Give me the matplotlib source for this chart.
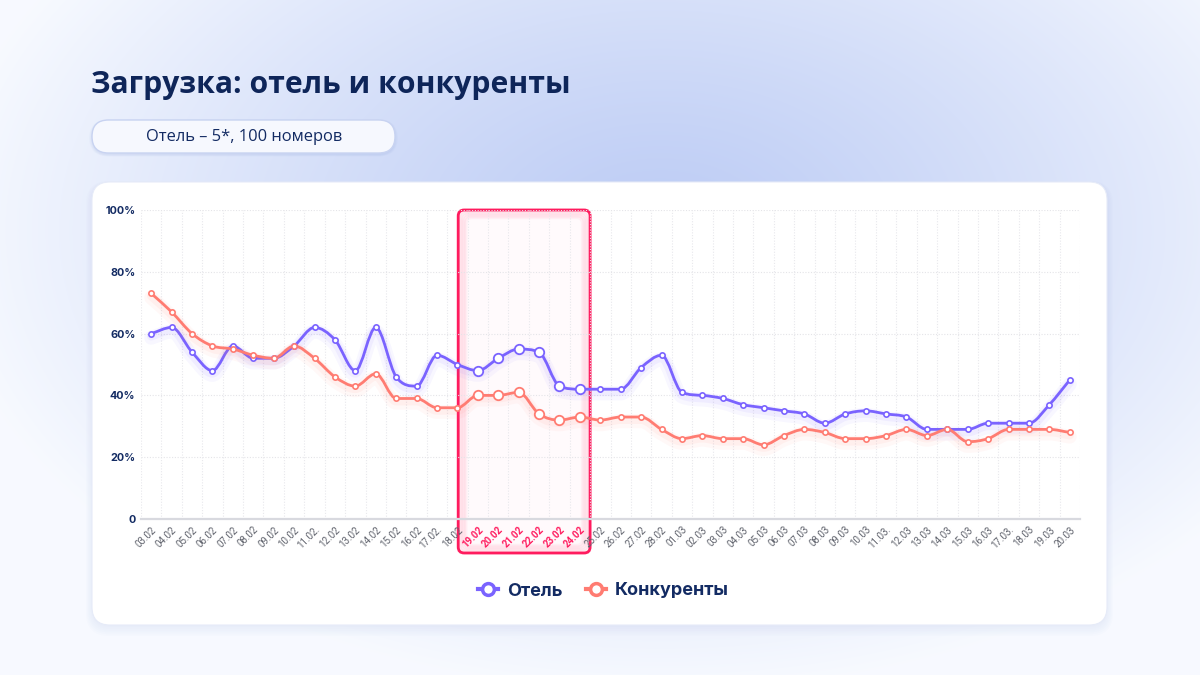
import numpy as np
import matplotlib.pyplot as plt
from matplotlib.patches import FancyBboxPatch, PathPatch
from matplotlib.path import Path
from matplotlib.lines import Line2D
import matplotlib.patheffects as pe


dates = ['03.02', '04.02', '05.02', '06.02', '07.02', '08.02', '09.02', '10.02', '11.02.', '12.02',
         '13.02', '14.02', '15.02', '16.02', '17.02.', '18.02', '19.02', '20.02', '21.02', '22.02',
         '23.02', '24.02', '25.02', '26.02', '27.02', '28.02', '01.03', '02.03', '03.03', '04.03',
         '05.03', '06.03', '07.03', '08.03', '09.03', '10.03', '11.03.', '12.03', '13.03', '14.03',
         '15.03', '16.03', '17.03.', '18.03', '19.03', '20.03']
hotel = [60, 62, 54, 48, 56, 52, 52, 56, 62, 58, 48, 62, 46, 43, 53, 50,
         48, 52, 55, 54, 43, 42, 42, 42, 49, 53,
         41, 40, 39, 37, 36,
         35, 34, 31, 34, 35, 34, 33, 29, 29, 29, 31, 31, 31, 37, 45]
rivals = [73, 67, 60, 56, 55, 53, 52, 56, 52, 46, 43, 47, 39, 39, 36, 36,
          40, 40, 41, 34, 32, 33, 32, 33, 33, 29,
          26, 27, 26, 26, 24,
          27, 29, 28, 26, 26, 27, 29, 27, 29, 25, 26, 29, 29, 29, 28]
focus_start, focus_end = '19.02', '24.02'

title = 'Загрузка: отель и конкуренты'
subtitle = 'Отель – 5*, 100 номеров'

HOTEL_C = '#7A63FF'
RIVAL_C = '#FF7C72'
NAVY = '#132B63'
PINK = '#FF1B5E'


def smooth_path(xs, ys):
    # monotone cubic (Fritsch-Carlson) as bezier segments
    xs = np.asarray(xs, float)
    ys = np.asarray(ys, float)
    d = np.diff(ys) / np.diff(xs)
    m = np.zeros(len(ys))
    m[0], m[-1] = d[0], d[-1]
    for i in range(1, len(ys) - 1):
        if d[i - 1] * d[i] <= 0:
            m[i] = 0
        else:
            m[i] = (d[i - 1] + d[i]) / 2
    for i in range(len(d)):
        if d[i] == 0:
            m[i] = m[i + 1] = 0
        else:
            a, b = m[i] / d[i], m[i + 1] / d[i]
            s = a * a + b * b
            if s > 9:
                t = 3 / np.sqrt(s)
                m[i], m[i + 1] = t * a * d[i], t * b * d[i]
    verts = [(xs[0], ys[0])]
    codes = [Path.MOVETO]
    for i in range(len(xs) - 1):
        h = xs[i + 1] - xs[i]
        verts += [(xs[i] + h / 3, ys[i] + m[i] * h / 3),
                  (xs[i + 1] - h / 3, ys[i + 1] - m[i + 1] * h / 3),
                  (xs[i + 1], ys[i + 1])]
        codes += [Path.CURVE4] * 3
    return Path(verts, codes)


fig = plt.figure(figsize=(12, 6.75), dpi=100)

# background gradient
bg = fig.add_axes([0, 0, 1, 1])
gx, gy = np.meshgrid(np.arange(1200), np.arange(675))
r = np.sqrt(((gx - 660) / 720) ** 2 + ((gy - 230) / 460) ** 2)
t = np.clip(r, 0, 1) ** 1.2
c0 = np.array([0.74, 0.80, 0.96])
c1 = np.array([0.97, 0.98, 1.0])
img = c0[None, None, :] * (1 - t[..., None]) + c1[None, None, :] * t[..., None]
bg.imshow(img, extent=[0, 1200, 675, 0], aspect='auto')
bg.set_xlim(0, 1200)
bg.set_ylim(675, 0)
bg.axis('off')

# card with soft shadow
for k in range(6):
    bg.add_patch(FancyBboxPatch((92 - k * 1.2, 184 - k * 0.6), 1015 + k * 2.4, 443 + k * 2.4,
                                boxstyle='round,pad=0,rounding_size=%d' % (18 + k),
                                fc='#9AAEE6', ec='none', alpha=0.025))
bg.add_patch(FancyBboxPatch((92, 182), 1015, 443, boxstyle='round,pad=0,rounding_size=18',
                            fc='white', ec='#E6EBF8', lw=0.8))

# pill
for k in range(4):
    bg.add_patch(FancyBboxPatch((92 - k, 121 - k * 0.5), 303 + 2 * k, 34 + k,
                                boxstyle='round,pad=0,rounding_size=%d' % (17 + k),
                                fc='#8FA4E0', ec='none', alpha=0.05))
bg.add_patch(FancyBboxPatch((92, 120), 303, 33, boxstyle='round,pad=0,rounding_size=16.5',
                            fc='#F6F8FE', ec='#C8D3F1', lw=1))
bg.text(244, 137, subtitle, ha='center', va='center', fontsize=11.9,
        family='Open Sans', color=NAVY)
bg.text(91, 93, title, ha='left', va='baseline', fontsize=21.7, family='Open Sans',
        fontweight='bold', color='#0E2559')

# chart
x = np.arange(len(dates))
ax = fig.add_axes([141 / 1200, 1 - 519 / 675, 939 / 1200, 309 / 675])
ax.patch.set_alpha(0)
ax.set_xlim(-0.5, len(dates) - 0.5)
ax.set_ylim(0, 100)
ax.set_yticks([0, 20, 40, 60, 80, 100])
ax.set_yticklabels(['0', '20%', '40%', '60%', '80%', '100%'])
ax.set_xticks(x)
ax.set_xticklabels(dates, rotation=45, ha='right', rotation_mode='anchor')
ax.set_xticks(x[:-1] + 0.5, minor=True)
ax.tick_params(axis='both', which='both', length=0)
ax.tick_params(axis='y', pad=4, labelsize=7.8, labelcolor=NAVY)
ax.tick_params(axis='x', pad=4, labelsize=7, labelcolor='#5F626C')
for lab in ax.get_yticklabels():
    lab.set_fontweight('bold')
    lab.set_family('Inter')
for lab in ax.get_xticklabels():
    lab.set_family('Roboto')

i0, i1 = dates.index(focus_start), dates.index(focus_end)
for i, lab in enumerate(ax.get_xticklabels()):
    if i0 <= i <= i1:
        lab.set_color(PINK)
        lab.set_fontweight('bold')

ax.grid(axis='y', which='major', color='#E4E4E8', lw=0.8, linestyle=(0, (1, 1.5)))
ax.grid(axis='x', which='minor', color='#E8E8EC', lw=0.8, linestyle=(0, (1, 1.5)))
ax.axvline(-0.5, color='#E8E8EC', lw=0.8, linestyle=(0, (1, 1.5)))
ax.axvline(len(dates) - 0.5, color='#E8E8EC', lw=0.8, linestyle=(0, (1, 1.5)))
for s in ['top', 'right', 'left']:
    ax.spines[s].set_visible(False)
ax.spines['bottom'].set_color('#D8D9DF')
ax.spines['bottom'].set_linewidth(1.6)

# highlight box (drawn on background in pixel units)
to_px = bg.transData.inverted()
(bx0, by0), (bx1, by1) = to_px.transform(ax.transData.transform([(i0 - 0.96, 100), (i1 + 0.5, -11)]))
bg.add_patch(FancyBboxPatch((bx0, by0), bx1 - bx0, by1 - by0,
                            boxstyle='round,pad=0,rounding_size=6',
                            fc='#FFFAFC', ec='none', zorder=2))
for k in range(6):
    bg.add_patch(FancyBboxPatch((bx0 + k * 1.5, by0 + k * 1.5), bx1 - bx0 - 3 * k, by1 - by0 - 3 * k,
                                boxstyle='round,pad=0,rounding_size=6',
                                fc='none', ec='#FF7FA2', lw=2.5, alpha=0.09, zorder=3))
bg.add_patch(FancyBboxPatch((bx0, by0), bx1 - bx0, by1 - by0,
                            boxstyle='round,pad=0,rounding_size=6',
                            fc='none', ec=PINK, lw=2, zorder=4))

for ys, col in [(hotel, HOTEL_C), (rivals, RIVAL_C)]:
    path = smooth_path(x, ys)
    line = PathPatch(path, fc='none', ec=col, lw=2, zorder=3, capstyle='round',
                     path_effects=[pe.Stroke(linewidth=10, foreground=col, alpha=0.05, offset=(0, -3)),
                                   pe.Stroke(linewidth=6, foreground=col, alpha=0.07, offset=(0, -2)),
                                   pe.Normal()])
    ax.add_patch(line)
    ys = np.asarray(ys)
    small = (x < i0) | (x > i1)
    ax.plot(x[small], ys[small], 'o', ms=3.8, mfc='white', mec=col, mew=1.2, zorder=4)
    ax.plot(x[~small], ys[~small], 'o', ms=6.8, mfc='white', mec=col, mew=1.3, zorder=4)

handles = [Line2D([0], [0], color=HOTEL_C, lw=3, marker='o', ms=8.5, mfc='white', mec=HOTEL_C, mew=2.5),
           Line2D([0], [0], color=RIVAL_C, lw=3, marker='o', ms=8.5, mfc='white', mec=RIVAL_C, mew=2.5)]
fig.legend(handles, ['Отель', 'Конкуренты'], loc='center', bbox_to_anchor=(0.503, 1 - 591 / 675),
           ncol=2, frameon=False, handlelength=1.1, columnspacing=1.3, handletextpad=0.5,
           prop={'family': 'Inter', 'weight': 'bold', 'size': 13}, labelcolor=NAVY)

plt.savefig('out.png', dpi=100)
